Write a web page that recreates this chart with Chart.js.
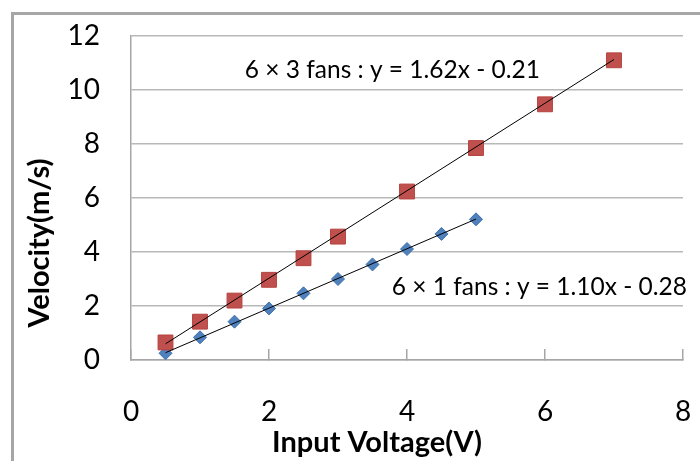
<!DOCTYPE html>
<html>
<head>
<meta charset="utf-8">
<script src="https://cdn.jsdelivr.net/npm/chart.js@4.4.0/dist/chart.umd.min.js"></script>
<style>
  html, body { margin: 0; padding: 0; background: #fff; overflow: hidden; }
  #wrap { width: 700px; height: 461px; position: relative; }
  canvas { display: block; }
</style>
</head>
<body>
<div id="wrap"><canvas id="chart"></canvas></div>
<script>
// 6x3 fans (red squares)
const voltage3 = [0.5, 1, 1.5, 2, 2.5, 3, 4, 5, 6, 7];
const velocity3 = [0.65, 1.42, 2.2, 2.97, 3.77, 4.57, 6.24, 7.85, 9.47, 11.1];
// 6x1 fans (blue diamonds)
const voltage1 = [0.5, 1, 1.5, 2, 2.5, 3, 3.5, 4, 4.5, 5];
const velocity1 = [0.25, 0.84, 1.42, 1.91, 2.47, 3.0, 3.54, 4.11, 4.67, 5.21];
// trendline end points
const trend3X = [0.5, 7];
const trend3Y = [0.6, 11.13];
const trend1X = [0.5, 5];
const trend1Y = [0.27, 5.22];
// labels
const fitLabel3 = '6 × 3 fans : y = 1.62x - 0.21';
const fitLabel1 = '6 × 1 fans : y = 1.10x - 0.28';
const xTitle = 'Input Voltage(V)';
const yTitle = 'Velocity(m/s)';

const FONT = 'Lato, "Open Sans", sans-serif';

const toPoints = (xs, ys) => xs.map((x, i) => ({ x: x, y: ys[i] }));

// frame, equation labels and axis titles
const extras = {
    id: 'extras',
    beforeDraw(chart) {
        const ctx = chart.ctx;
        ctx.save();
        ctx.strokeStyle = '#a6a6a6';
        ctx.lineWidth = 3;
        ctx.beginPath();
        ctx.moveTo(12.5, chart.height);
        ctx.lineTo(12.5, 13.5);
        ctx.lineTo(chart.width, 13.5);
        ctx.stroke();
        ctx.restore();
    },
    afterDraw(chart) {
        const ctx = chart.ctx;
        const xs = chart.scales.x, ys = chart.scales.y;
        ctx.save();
        ctx.fillStyle = '#000';
        ctx.textBaseline = 'middle';
        ctx.textAlign = 'left';
        ctx.font = '24.5px ' + FONT;
        ctx.fillText(fitLabel3, xs.getPixelForValue(1.65), ys.getPixelForValue(10.75));
        ctx.fillText(fitLabel1, xs.getPixelForValue(3.78), ys.getPixelForValue(2.7));

        ctx.font = 'bold 29px ' + FONT;
        ctx.textAlign = 'center';
        ctx.fillText(xTitle, 377, 443);
        ctx.translate(40, 243);
        ctx.rotate(-Math.PI / 2);
        ctx.fillText(yTitle, 0, 0);
        ctx.restore();
    }
};

new Chart(document.getElementById('chart'), {
    type: 'scatter',
    data: {
        datasets: [
            {
                type: 'line',
                data: toPoints(trend3X, trend3Y),
                borderColor: '#000',
                borderWidth: 1,
                pointRadius: 0
            },
            {
                type: 'line',
                data: toPoints(trend1X, trend1Y),
                borderColor: '#000',
                borderWidth: 1,
                pointRadius: 0
            },
            {
                label: '6x3 fans',
                data: toPoints(voltage3, velocity3),
                pointStyle: 'rect',
                pointRadius: 10.5,
                backgroundColor: '#c0504d',
                borderColor: '#b5423f',
                borderWidth: 1
            },
            {
                label: '6x1 fans',
                data: toPoints(voltage1, velocity1),
                pointStyle: 'rectRot',
                pointRadius: 6.5,
                backgroundColor: '#4f81bd',
                borderColor: '#3f70ab',
                borderWidth: 1
            }
        ]
    },
    options: {
        responsive: true,
        maintainAspectRatio: false,
        animation: false,
        layout: { padding: { left: 0, top: 36, right: 17, bottom: 0 } },
        plugins: {
            legend: { display: false },
            tooltip: { enabled: false }
        },
        scales: {
            x: {
                type: 'linear',
                min: 0,
                max: 8,
                afterFit: s => {
                    s.height = 101;
                    s.paddingLeft = 0;
                    s.paddingRight = 0;
                },
                ticks: {
                    stepSize: 2,
                    color: '#000',
                    padding: 46,
                    font: { family: FONT, size: 28 }
                },
                grid: {
                    drawOnChartArea: false,
                    tickLength: -11,
                    color: '#a6a6a6',
                    lineWidth: 1.5
                },
                border: { display: true, color: '#a6a6a6', width: 1.5 }
            },
            y: {
                min: 0,
                max: 12,
                afterFit: s => {
                    s.width = 131;
                    s.paddingTop = 0;
                    s.paddingBottom = 0;
                },
                ticks: {
                    stepSize: 2,
                    color: '#000',
                    padding: 31,
                    font: { family: FONT, size: 28 }
                },
                grid: {
                    drawTicks: false,
                    color: '#b8b8b8',
                    lineWidth: 1.5
                },
                border: { display: true, color: '#a6a6a6', width: 1.5 }
            }
        }
    },
    plugins: [extras]
});
</script>
</body>
</html>
